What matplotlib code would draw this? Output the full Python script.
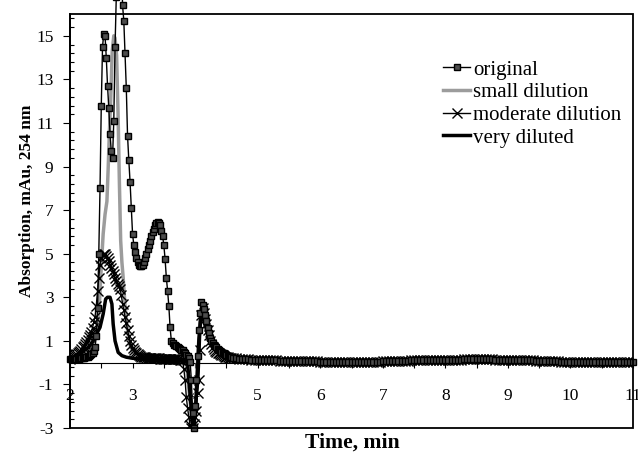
import numpy as np
import matplotlib
matplotlib.use('Agg')
from matplotlib import pyplot as plt
from matplotlib.ticker import FixedLocator, MultipleLocator
from matplotlib.patches import Rectangle

#------------- 字体 ---------------------#
plt.rcParams['font.family'] = ['Liberation Serif', 'DejaVu Serif']
plt.rcParams['axes.unicode_minus'] = False

#------------- 数据 -----------------------------#
# 峰区: 2.00 ~ 4.58 min, 每 0.02 min 一个点, 每行 0.2 min
t_peak = np.round(2.0 + 0.02 * np.arange(130), 2)
original_peak = [
    0.15, 0.15, 0.16, 0.16, 0.17, 0.17, 0.18, 0.18, 0.19, 0.20,   # 2.00
    0.21, 0.22, 0.24, 0.26, 0.28, 0.31, 0.35, 0.40, 0.46, 0.55,   # 2.20
    0.7, 1.2, 2.5, 5.0, 8.0, 11.8, 14.5, 15.1, 15.0, 14.0,        # 2.40
    12.7, 11.7, 10.5, 9.7, 9.4, 11.1, 14.5, 16.8, 18.5, 19.5,     # 2.60
    19.8, 19.0, 16.4, 15.7, 14.2, 12.6, 10.4, 9.3, 8.3, 7.1,      # 2.80
    5.9, 5.4, 5.1, 4.8, 4.6, 4.5, 4.44, 4.45, 4.5, 4.62,          # 3.00
    4.8, 4.98, 5.2, 5.4, 5.6, 5.8, 6.0, 6.15, 6.3, 6.4,           # 3.20
    6.45, 6.43, 6.3, 6.05, 5.8, 5.4, 4.75, 3.9, 3.3, 2.6,         # 3.40
    1.62, 1.0, 0.88, 0.83, 0.79, 0.75, 0.71, 0.68, 0.64, 0.6,     # 3.60
    0.56, 0.5, 0.42, 0.35, 0.3, 0.2, 0.05, -0.8, -2.3, -3.0,      # 3.80
    -2.0, -0.8, 0.3, 1.5, 2.3, 2.76, 2.65, 2.45, 2.2, 1.9,        # 4.00
    1.6, 1.35, 1.15, 1.0, 0.9, 0.82, 0.75, 0.7, 0.64, 0.6,        # 4.20
    0.55, 0.5, 0.46, 0.42, 0.38, 0.35, 0.32, 0.29, 0.26, 0.24,    # 4.40
]
moderate_peak = [
    0.18, 0.22, 0.26, 0.30, 0.34, 0.40, 0.45, 0.50, 0.55, 0.62,   # 2.00
    0.70, 0.78, 0.86, 0.95, 1.05, 1.16, 1.28, 1.42, 1.60, 1.85,   # 2.20
    2.1, 2.6, 3.3, 3.9, 4.5, 4.8, 4.95, 5.0, 4.98, 4.9,           # 2.40
    4.8, 4.65, 4.5, 4.35, 4.2, 4.05, 3.9, 3.75, 3.6, 3.5,         # 2.60
    3.4, 3.1, 2.7, 2.4, 2.1, 1.8, 1.5, 1.2, 1.0, 0.8,             # 2.80
    0.68, 0.6, 0.5, 0.44, 0.38, 0.34, 0.3, 0.28, 0.26, 0.25,      # 3.00
    0.24, 0.23, 0.22, 0.22, 0.21, 0.21, 0.2, 0.2, 0.2, 0.19,      # 3.20
    0.19, 0.19, 0.18, 0.18, 0.18, 0.18, 0.17, 0.17, 0.17, 0.17,   # 3.40
    0.16, 0.16, 0.16, 0.16, 0.15, 0.15, 0.15, 0.15, 0.14, 0.14,   # 3.60
    0.1, -0.3, -0.8, -1.6, -2.1, -2.5, -2.85, -3.0, -3.0, -2.8,   # 3.80
    -2.5, -2.2, -1.4, -0.8, 0.6, 2.2, 2.5, 2.3, 2.0, 1.77,        # 4.00
    1.5, 1.25, 1.0, 0.85, 0.72, 0.62, 0.55, 0.5, 0.45, 0.42,      # 4.20
    0.38, 0.35, 0.33, 0.3, 0.28, 0.26, 0.24, 0.22, 0.2, 0.19,     # 4.40
]
small_t = [2.00, 2.10, 2.20, 2.30, 2.38, 2.44, 2.47, 2.50, 2.53, 2.56,
           2.59, 2.61, 2.63, 2.65, 2.675, 2.70, 2.72, 2.745, 2.77, 2.79,
           2.81, 2.83, 2.85, 2.88, 2.92, 2.96, 3.00, 3.10, 3.30, 3.60,
           3.80, 3.86, 3.90, 3.94, 3.97, 4.00, 4.04, 4.08, 4.11, 4.16,
           4.22, 4.30, 4.40, 4.50]
small_v = [0.15, 0.22, 0.35, 0.6, 1.0, 1.6, 2.7, 4.4, 5.9, 6.8,
           7.4, 8.9, 10.6, 12.0, 14.3, 15.0, 14.9, 14.1, 11.2, 8.2,
           5.6, 4.6, 3.9, 2.6, 1.5, 0.8, 0.5, 0.3, 0.22, 0.18,
           0.15, 0.0, -1.2, -2.4, -2.9, -2.2, 0.2, 2.0, 2.4, 1.9,
           1.2, 0.7, 0.45, 0.32]
very_t = [2.00, 2.10, 2.20, 2.29, 2.35, 2.40, 2.44, 2.48, 2.53, 2.57,
          2.60, 2.64, 2.67, 2.69, 2.72, 2.77, 2.83, 2.90, 3.00, 3.20,
          3.50, 3.80, 3.88, 3.92, 3.96, 3.98, 4.02, 4.06, 4.10, 4.14,
          4.20, 4.28, 4.38, 4.50]
very_v = [0.18, 0.3, 0.5, 0.7, 0.9, 1.16, 1.4, 1.62, 2.23, 2.92,
          3.0, 3.0, 2.69, 1.77, 1.0, 0.47, 0.32, 0.25, 0.2, 0.15,
          0.12, 0.1, 0.0, -1.5, -2.8, -3.0, -1.5, 1.0, 2.3, 2.0,
          1.3, 0.8, 0.5, 0.3]
# 基线: 4.60 ~ 11.00 min, 每 0.05 min, 四条曲线重合
t_tail = np.round(4.6 + 0.05 * np.arange(129), 2)
tail_v = [
    0.22, 0.2, 0.18, 0.17, 0.16, 0.15, 0.14, 0.13, 0.12, 0.12,    # 4.60
    0.11, 0.11, 0.1, 0.1, 0.1, 0.09, 0.09, 0.09, 0.08, 0.08,      # 5.10
    0.08, 0.07, 0.07, 0.07, 0.06, 0.06, 0.06, 0.06, 0.05, 0.05,   # 5.60
    0.05, 0.05, 0.05, 0.05, 0.05, 0.04, 0.04, 0.04, 0.04, 0.04,   # 6.10
    0.04, 0.04, 0.04, 0.04, 0.05, 0.05, 0.05, 0.05, 0.06, 0.06,   # 6.60
    0.06, 0.07, 0.07, 0.08, 0.08, 0.09, 0.09, 0.1, 0.1, 0.1,      # 7.10
    0.11, 0.11, 0.11, 0.12, 0.12, 0.12, 0.13, 0.13, 0.13, 0.13,   # 7.60
    0.14, 0.14, 0.14, 0.14, 0.15, 0.15, 0.15, 0.15, 0.15, 0.15,   # 8.10
    0.15, 0.15, 0.15, 0.15, 0.14, 0.14, 0.14, 0.14, 0.13, 0.13,   # 8.60
    0.13, 0.12, 0.12, 0.11, 0.11, 0.1, 0.1, 0.09, 0.09, 0.08,     # 9.10
    0.08, 0.07, 0.07, 0.06, 0.06, 0.05, 0.05, 0.04, 0.04, 0.03,   # 9.60
    0.03, 0.03, 0.03, 0.02, 0.02, 0.02, 0.02, 0.02, 0.02, 0.02,   # 10.10
    0.02, 0.02, 0.03, 0.03, 0.03, 0.03, 0.03, 0.03, 0.03,         # 10.60
]
labels = ['original', 'small dilution', 'moderate dilution', 'very diluted']

#------------- 画图 ---------------------#
fig = plt.figure(figsize=(6.38, 4.53), dpi=100)
ax = fig.add_axes([70/638, 1-428/453, (633-70)/638, (428-14)/453])

ax.plot(np.concatenate([t_peak, t_tail]), original_peak + tail_v,
        color='k', lw=1, marker='s', ms=4.6, mfc='0.3', mec='k', mew=1.0,
        clip_on=False, zorder=3.4, label=labels[0])
ax.plot(small_t + list(t_tail), small_v + tail_v, color='#9c9c9c', lw=2.5,
        zorder=3.1, label=labels[1])
ax.plot(np.concatenate([t_peak, t_tail]), moderate_peak + tail_v,
        color='k', lw=1, marker='x', ms=6.5, mew=1.0, zorder=3.2, label=labels[2])
ax.plot(very_t + list(t_tail), very_v + tail_v, color='k', lw=2.5,
        zorder=3.3, label=labels[3])

#------------- 坐标轴 ---------------------#
ax.set_xlim(2, 11)
ax.set_ylim(-3, 16)
ax.xaxis.set_major_locator(MultipleLocator(1))
ax.xaxis.set_minor_locator(MultipleLocator(0.5))
ax.yaxis.set_major_locator(FixedLocator(np.arange(-3, 16, 2)))
ax.yaxis.set_minor_locator(FixedLocator(np.arange(-3, 16.01, 0.4)))
ax.spines['bottom'].set_position(('data', 0))
ax.spines['bottom'].set_linewidth(0.8)
for s in ['top', 'right']:
    ax.spines[s].set_visible(False)
ax.spines['left'].set_linewidth(1.3)
ax.add_patch(Rectangle((0, 0), 1, 1, transform=ax.transAxes, fill=False,
                       lw=1.3, ec='k', clip_on=False, zorder=5))
ax.tick_params(axis='x', which='both', direction='out', length=3.5, width=0.8,
               labelsize=12.5, pad=15)
ax.tick_params(axis='y', which='major', direction='out', length=5, width=0.8,
               labelsize=12.5, pad=7)
ax.tick_params(axis='y', which='minor', direction='in', length=3, width=0.8)

fig.text(352/638, 1-443/453, 'Time, min', ha='center', va='center',
         fontsize=15.6, fontweight='bold')
fig.text(27/638, 1-201/453, 'Absorption, mAu, 254 nm', ha='center', va='center',
         rotation=90, fontsize=12.5, fontweight='bold')

ax.legend(loc='upper left', bbox_to_anchor=(443/638, 1-60/453),
          bbox_transform=fig.transFigure, frameon=False, fontsize=15,
          handlelength=1.3, handletextpad=0.15, labelspacing=0.15,
          borderpad=0, borderaxespad=0, numpoints=1)

fig.savefig('out.png', dpi=100)
